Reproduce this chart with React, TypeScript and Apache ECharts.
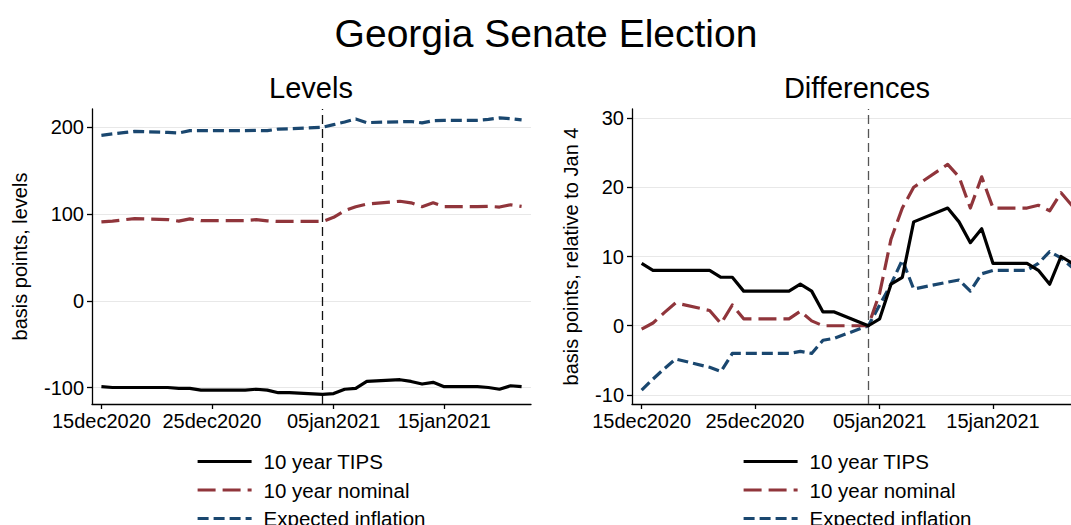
import { useEffect, useRef } from 'react';
import * as echarts from 'echarts';

// ---------- data ----------
const dates = [
  '2020-12-15', '2020-12-16', '2020-12-17', '2020-12-18', '2020-12-21', '2020-12-22', '2020-12-23', '2020-12-24',
  '2020-12-25', '2020-12-28', '2020-12-29', '2020-12-30', '2020-12-31', '2021-01-01', '2021-01-04', '2021-01-05',
  '2021-01-06', '2021-01-07', '2021-01-08', '2021-01-11', '2021-01-12', '2021-01-13', '2021-01-14', '2021-01-15',
  '2021-01-18', '2021-01-19', '2021-01-20', '2021-01-21', '2021-01-22',
];

const tipsLevel = [-99, -100, -100, -100, -100, -101, -101, -103, -103, -103, -102, -103, -106, -106, -108, -107, -102, -101, -93, -91, -93, -96, -94, -99, -99, -100, -102, -98, -99];
const nominalLevel = [90.9, 91.8, 93.3, 94.7, 93.6, 91.7, 94.4, 92.4, 92.4, 92.4, 93.5, 92.1, 91.4, 91.4, 91.4, 96.1, 103.9, 108.4, 111.4, 114.7, 112.9, 108.4, 112.9, 108.4, 108.4, 108.8, 108.0, 110.6, 108.7];
const inflationLevel = [190.7, 192.3, 193.8, 195.2, 194.0, 193.4, 196, 196, 196, 196, 196.3, 196, 197.9, 198.2, 200, 203, 206, 209.5, 205.3, 206.3, 206.6, 205, 207.5, 208, 208, 209, 210.7, 209.8, 208.4];

const tipsDiff = [9, 8, 8, 8, 8, 7, 7, 5, 5, 5, 6, 5, 2, 2, 0, 1, 6, 7, 15, 17, 15, 12, 14, 9, 9, 8, 6, 10, 9];
const nominalDiff = [-0.5, 0.4, 1.9, 3.3, 2.2, 0.3, 3.0, 1.0, 1.0, 1.0, 2.1, 0.7, 0, 0, 0, 4.7, 12.5, 17, 20, 23.3, 21.5, 17, 21.5, 17, 17, 17.4, 16.6, 19.2, 17.3];
const inflationDiff = [-9.3, -7.7, -6.2, -4.8, -6.0, -6.6, -4.0, -4.0, -4.0, -4.0, -3.7, -4.0, -2.1, -1.8, 0, 3.0, 6.0, 9.5, 5.3, 6.3, 6.6, 5.0, 7.5, 8.0, 8.0, 9.0, 10.7, 9.8, 8.4];

const seriesNames = ['10 year TIPS', '10 year nominal', 'Expected inflation'];
const xTickDates = ['2020-12-15', '2020-12-25', '2021-01-05', '2021-01-15'];
const eventDate = '2021-01-04';
const levelTicks = [-100, 0, 100, 200];
const diffTicks = [-10, 0, 10, 20, 30];

// ---------- helpers ----------
const DAY = 86400000;
const ts = (s: string) => {
  const [y, m, d] = s.split('-').map(Number);
  return Date.UTC(y, m - 1, d);
};
const MONTHS = ['jan', 'feb', 'mar', 'apr', 'may', 'jun', 'jul', 'aug', 'sep', 'oct', 'nov', 'dec'];
const fmtDate = (v: number) => {
  const d = new Date(v);
  const dd = String(d.getUTCDate()).padStart(2, '0');
  return dd + MONTHS[d.getUTCMonth()] + d.getUTCFullYear();
};

const FONT = "'Liberation Sans', Arial, Helvetica, sans-serif";
const COLORS = ['#000000', '#90353b', '#1a476f'];
const DASHES: any[] = ['solid', [18, 7], [11, 5]];

export default function App() {
  const ref = useRef<HTMLDivElement>(null);

  useEffect(() => {
    if (!ref.current) return;
    const chart = echarts.init(ref.current, undefined, { renderer: 'svg' });

    const xMin = ts(dates[0]) - 0.85 * DAY;
    const xMax = ts(dates[dates.length - 1]) + 0.85 * DAY;
    const xTicks = xTickDates.map(ts);

    const xAxis = (gridIndex: number) => ({
      type: 'value',
      gridIndex,
      min: xMin,
      max: xMax,
      axisLine: { show: true, onZero: false, lineStyle: { color: '#000', width: 1.3 } },
      axisTick: { show: true, length: 5, lineStyle: { color: '#000', width: 1.3 }, customValues: xTicks },
      axisLabel: {
        customValues: xTicks,
        formatter: (v: number) => fmtDate(v),
        fontSize: 20,
        fontFamily: FONT,
        color: '#000',
        margin: 7,
        hideOverlap: false,
      },
      splitLine: { show: false },
    });

    const yAxis = (gridIndex: number, min: number, max: number, ticks: number[], name: string, nameGap: number) => ({
      type: 'value',
      gridIndex,
      min,
      max,
      name,
      nameLocation: 'middle',
      nameGap,
      nameTextStyle: { fontSize: 20, fontFamily: FONT, color: '#000' },
      axisLine: { show: true, onZero: false, lineStyle: { color: '#000', width: 1.3 } },
      axisTick: { show: true, length: 5, lineStyle: { color: '#000', width: 1.3 }, customValues: ticks },
      axisLabel: { customValues: ticks, fontSize: 20, fontFamily: FONT, color: '#000', margin: 8 },
      splitLine: { show: true, lineStyle: { color: '#e8e8e8', width: 1 } },
    });

    const mk = (name: string, idx: number, values: number[], axisIndex: number, lineColor?: string) => {
      const s: any = {
        type: 'line',
        name,
        xAxisIndex: axisIndex,
        yAxisIndex: axisIndex,
        data: dates.map((d, i) => [ts(d), values[i]]),
        symbol: 'none',
        showSymbol: false,
        lineStyle: { color: COLORS[idx], width: 3.2, type: DASHES[idx], cap: 'butt', join: 'round' },
        itemStyle: { color: COLORS[idx] },
        z: 10 - idx,
      };
      if (lineColor) {
        s.markLine = {
          silent: true,
          symbol: ['none', 'none'],
          label: { show: false },
          lineStyle: { color: lineColor, width: 1.3, type: [9, 5] },
          data: [{ xAxis: ts(eventDate) }],
          z: 1,
        };
      }
      return s;
    };

    const legend = (left: number) => ({
      orient: 'vertical',
      left,
      top: 451,
      height: 100,
      padding: 0,
      itemWidth: 54,
      itemHeight: 20,
      itemGap: 7.5,
      data: seriesNames,
      selectedMode: false,
      itemStyle: { opacity: 0 },
      lineStyle: { width: 3.2 },
      textStyle: { fontSize: 20.5, fontFamily: FONT, color: '#000', padding: [0, 0, 0, 7] },
    });

    const option: any = {
      animation: false,
      backgroundColor: '#fff',
      textStyle: { fontFamily: FONT },
      grid: [
        { left: 92, top: 109, width: 439, height: 295 },
        { left: 632, top: 109, width: 450, height: 295 },
      ],
      xAxis: [xAxis(0), xAxis(1)],
      yAxis: [
        yAxis(0, -119, 221, levelTicks, 'basis points, levels', 62),
        yAxis(1, -11.3, 31.3, diffTicks, 'basis points, relative to Jan 4', 51),
      ],
      legend: [legend(196), legend(742)],
      series: [
        mk(seriesNames[0], 0, tipsLevel, 0, '#111'),
        mk(seriesNames[1], 1, nominalLevel, 0),
        mk(seriesNames[2], 2, inflationLevel, 0),
        mk(seriesNames[0], 0, tipsDiff, 1, '#555'),
        mk(seriesNames[1], 1, nominalDiff, 1),
        mk(seriesNames[2], 2, inflationDiff, 1),
      ],
      graphic: [
        {
          type: 'text', x: 546, y: 33,
          style: { text: 'Georgia Senate Election', fontSize: 39, fontFamily: FONT, fill: '#000', align: 'center', verticalAlign: 'middle' },
        },
        {
          type: 'text', x: 311, y: 88,
          style: { text: 'Levels', fontSize: 29, fontFamily: FONT, fill: '#000', align: 'center', verticalAlign: 'middle' },
        },
        {
          type: 'text', x: 857, y: 88,
          style: { text: 'Differences', fontSize: 29, fontFamily: FONT, fill: '#000', align: 'center', verticalAlign: 'middle' },
        },
      ],
    };

    chart.setOption(option);
    return () => chart.dispose();
  }, []);

  return (
    <div
      ref={ref}
      style={{ position: 'fixed', left: 0, top: 0, width: 1100, height: 560, background: '#fff' }}
    />
  );
}
